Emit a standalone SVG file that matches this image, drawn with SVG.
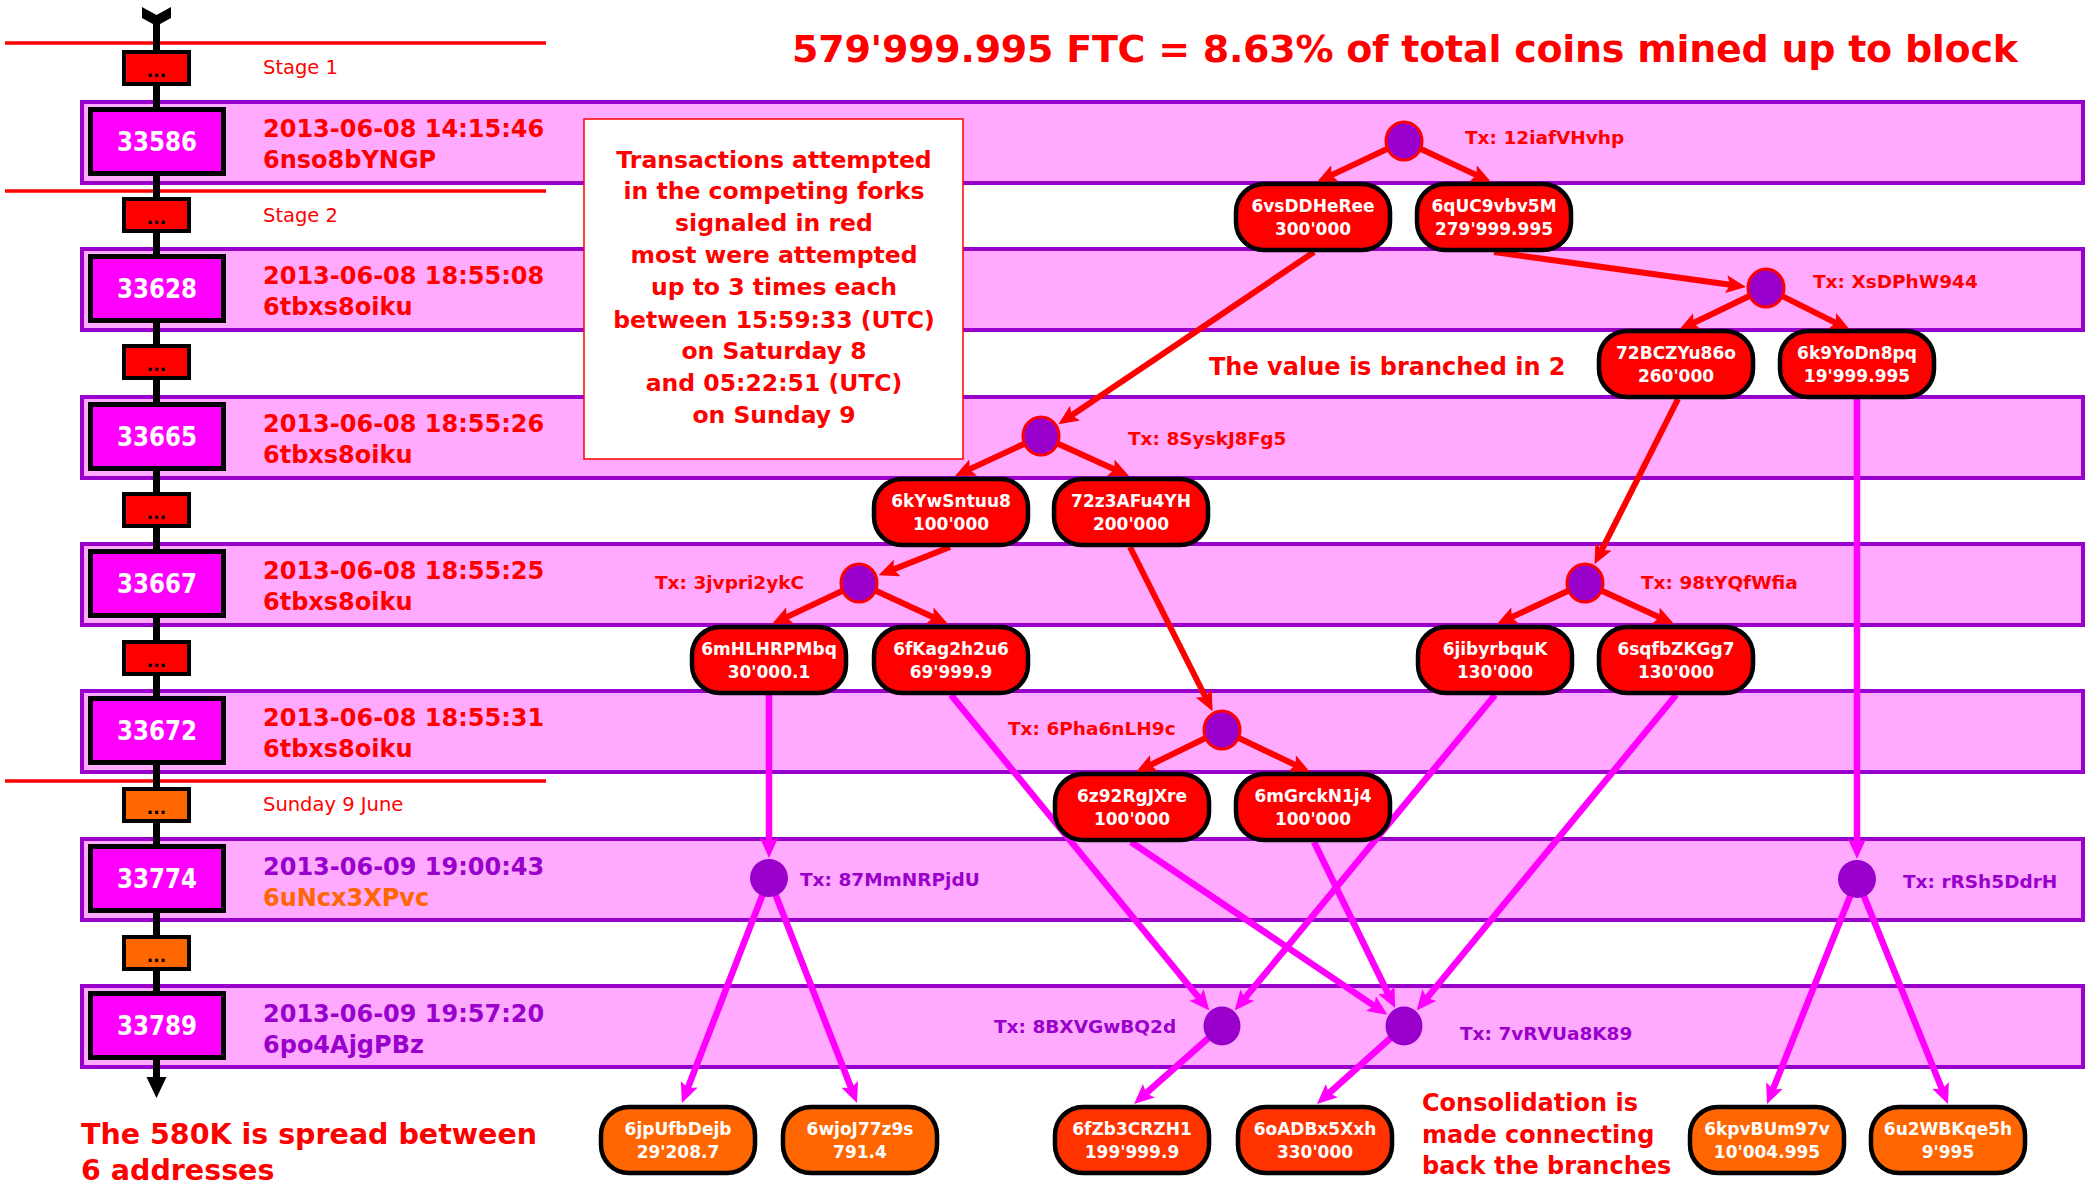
<svg xmlns="http://www.w3.org/2000/svg" width="2094" height="1184" viewBox="0 0 2094 1184">
<defs>
<style>
text{font-family:"DejaVu Sans","Liberation Sans",sans-serif}
.band{fill:#FFAAFF;stroke:#9900CC;stroke-width:4}
.blk{fill:#FF00FF;stroke:#000;stroke-width:5}
.dot{fill:#FF0000;stroke:#000;stroke-width:4}
.doto{fill:#FF6600;stroke:#000;stroke-width:4}
.dt{font-size:17px;font-weight:bold;fill:#000;text-anchor:middle}
.num{font-size:26px;font-weight:bold;fill:#fff;text-anchor:middle}
.date{font-size:24px;font-weight:bold;fill:#FF0000}
.pur{fill:#9900CC}
.org{fill:#FF6600}
.stage{font-size:19.5px;fill:#FF0000}
.rline{stroke:#FF0000;stroke-width:3.5}
.node{fill:#FF0000;stroke:#000;stroke-width:4.5}
.nodeo{fill:#FF6600;stroke:#000;stroke-width:4.5}
.noder{fill:#FF3300;stroke:#000;stroke-width:4.5}
.nt{font-size:17px;font-weight:bold;fill:#fff;text-anchor:middle}
.txr{fill:#9900CC;stroke:#FF0000;stroke-width:3}
.txp{fill:#9900CC}
.tl{font-size:18.5px;font-weight:bold;fill:#FF0000}
.tlp{font-size:18.5px;font-weight:bold;fill:#9900CC}
.cr{fill:none;stroke:#FF0000;stroke-width:6;marker-end:url(#ar)}
.cm{fill:none;stroke:#FF00FF;stroke-width:6.5;marker-end:url(#am)}
.big{font-size:24px;font-weight:bold;fill:#FF0000}
.note{font-size:23.5px;font-weight:bold;fill:#FF0000;text-anchor:middle}
</style>
<marker id="ar" markerUnits="userSpaceOnUse" markerWidth="20" markerHeight="18" viewBox="0 0 20 18" refX="8" refY="9" orient="auto"><path d="M0,0 L20,9 L0,18 L4,9 z" fill="#FF0000"/></marker>
<marker id="am" markerUnits="userSpaceOnUse" markerWidth="20" markerHeight="18" viewBox="0 0 20 18" refX="8" refY="9" orient="auto"><path d="M0,0 L20,9 L0,18 L4,9 z" fill="#FF00FF"/></marker>
</defs>
<rect width="2094" height="1184" fill="#fff"/>

<g id="header"><text x="792" y="62" font-size="38" font-weight="bold" fill="#FF0000" textLength="1226">579'999.995 FTC = 8.63% of total coins mined up to block</text></g>

<g id="bands">
<rect class="band" x="82" y="102" width="2001" height="81"/>
<rect class="band" x="82" y="249" width="2001" height="81"/>
<rect class="band" x="82" y="397" width="2001" height="81"/>
<rect class="band" x="82" y="544" width="2001" height="81"/>
<rect class="band" x="82" y="691" width="2001" height="81"/>
<rect class="band" x="82" y="839" width="2001" height="81"/>
<rect class="band" x="82" y="986" width="2001" height="81"/>
</g>

<g id="stage-lines">
<line class="rline" x1="5" y1="43" x2="546" y2="43"/>
<line class="rline" x1="5" y1="191" x2="546" y2="191"/>
<line class="rline" x1="5" y1="781" x2="546" y2="781"/>
<text class="stage" x="263" y="74">Stage 1</text>
<text class="stage" x="263" y="222">Stage 2</text>
<text class="stage org" x="263" y="811">Sunday 9 June</text>
</g>

<g id="timeline">
<line x1="156.5" y1="20" x2="156.5" y2="1080" stroke="#000" stroke-width="7"/>
<polygon points="142,7 156.5,15 171,7 171,18 156.5,26 142,18" fill="#000"/>
<polygon points="146.5,1077 166.5,1077 156.5,1098" fill="#000"/>
</g>

<g id="gaps">
<rect class="dot" x="124" y="52" width="65" height="32"/><text class="dt" x="156.5" y="77">...</text>
<rect class="dot" x="124" y="199" width="65" height="32"/><text class="dt" x="156.5" y="224">...</text>
<rect class="dot" x="124" y="346" width="65" height="32"/><text class="dt" x="156.5" y="371">...</text>
<rect class="dot" x="124" y="494" width="65" height="32"/><text class="dt" x="156.5" y="519">...</text>
<rect class="dot" x="124" y="642" width="65" height="32"/><text class="dt" x="156.5" y="667">...</text>
<rect class="doto" x="124" y="789" width="65" height="32"/><text class="dt" x="156.5" y="814">...</text>
<rect class="doto" x="124" y="937" width="65" height="32"/><text class="dt" x="156.5" y="962">...</text>
</g>

<g id="block-33586"><rect class="blk" x="90.5" y="109.5" width="133" height="64"/><text class="num" x="157" y="151" textLength="80" lengthAdjust="spacingAndGlyphs">33586</text><text class="date" x="263" y="137">2013-06-08 14:15:46</text><text class="date" x="263" y="168">6nso8bYNGP</text></g>
<g id="block-33628"><rect class="blk" x="90.5" y="256.5" width="133" height="64"/><text class="num" x="157" y="298" textLength="80" lengthAdjust="spacingAndGlyphs">33628</text><text class="date" x="263" y="284">2013-06-08 18:55:08</text><text class="date" x="263" y="315">6tbxs8oiku</text></g>
<g id="block-33665"><rect class="blk" x="90.5" y="404.5" width="133" height="64"/><text class="num" x="157" y="446" textLength="80" lengthAdjust="spacingAndGlyphs">33665</text><text class="date" x="263" y="432">2013-06-08 18:55:26</text><text class="date" x="263" y="463">6tbxs8oiku</text></g>
<g id="block-33667"><rect class="blk" x="90.5" y="551.5" width="133" height="64"/><text class="num" x="157" y="593" textLength="80" lengthAdjust="spacingAndGlyphs">33667</text><text class="date" x="263" y="579">2013-06-08 18:55:25</text><text class="date" x="263" y="610">6tbxs8oiku</text></g>
<g id="block-33672"><rect class="blk" x="90.5" y="698.5" width="133" height="64"/><text class="num" x="157" y="740" textLength="80" lengthAdjust="spacingAndGlyphs">33672</text><text class="date" x="263" y="726">2013-06-08 18:55:31</text><text class="date" x="263" y="757">6tbxs8oiku</text></g>
<g id="block-33774"><rect class="blk" x="90.5" y="846.5" width="133" height="64"/><text class="num" x="157" y="888" textLength="80" lengthAdjust="spacingAndGlyphs">33774</text><text class="date pur" x="263" y="875">2013-06-09 19:00:43</text><text class="date org" x="263" y="906">6uNcx3XPvc</text></g>
<g id="block-33789"><rect class="blk" x="90.5" y="993.5" width="133" height="64"/><text class="num" x="157" y="1035" textLength="80" lengthAdjust="spacingAndGlyphs">33789</text><text class="date pur" x="263" y="1022">2013-06-09 19:57:20</text><text class="date pur" x="263" y="1053">6po4AjgPBz</text></g>

<g id="note">
<rect x="584" y="119" width="379" height="340" fill="#fff" stroke="#FF0000" stroke-width="1.5"/>
<text class="note" x="774" y="168">Transactions attempted</text>
<text class="note" x="774" y="199">in the competing forks</text>
<text class="note" x="774" y="231">signaled in red</text>
<text class="note" x="774" y="263">most were attempted</text>
<text class="note" x="774" y="295">up to 3 times each</text>
<text class="note" x="774" y="328">between 15:59:33 (UTC)</text>
<text class="note" x="774" y="359">on Saturday 8</text>
<text class="note" x="774" y="391">and 05:22:51 (UTC)</text>
<text class="note" x="774" y="423">on Sunday 9</text>
</g>

<g id="connectors">
<path class="cr" d="M1404,141 L1327.8,176.9"/>
<path class="cr" d="M1404,141 L1480.2,176.9"/>
<path class="cr" d="M1494,252 L1734.1,285.3"/>
<path class="cr" d="M1766,288 L1689.8,324.8"/>
<path class="cr" d="M1766,288 L1839.3,324.6"/>
<path class="cr" d="M1314,252 L1068.4,417.6"/>
<path class="cr" d="M1041,436 L965.9,470.9"/>
<path class="cr" d="M1041,436 L1118.1,471"/>
<path class="cr" d="M950,547 L889.7,570.9"/>
<path class="cr" d="M859,583 L782.8,618.9"/>
<path class="cr" d="M859,583 L937.1,619"/>
<path class="cr" d="M1130,547 L1207.2,700.5"/>
<path class="cr" d="M1222,730 L1146.8,766.7"/>
<path class="cr" d="M1222,730 L1299.2,766.8"/>
<path class="cr" d="M1678,399 L1599.9,553.6"/>
<path class="cr" d="M1585,583 L1507.9,618.9"/>
<path class="cr" d="M1585,583 L1663.1,619"/>
<path class="cm" d="M769,695 L769,846"/>
<path class="cm" d="M1857,399 L1857,847"/>
<path class="cm" d="M769,878 L686.3,1091.8"/>
<path class="cm" d="M769,878 L852.6,1091.8"/>
<path class="cm" d="M1857,879 L1771.5,1092.9"/>
<path class="cm" d="M1857,879 L1943.5,1092.9"/>
<path class="cm" d="M1222,1026 L1143,1096"/>
<path class="cm" d="M1404,1026 L1325.9,1096"/>
<path class="cm" d="M951,695 L1201.7,1001.2"/>
<path class="cm" d="M1495,695 L1242.3,1001.3"/>
<path class="cm" d="M1131,842 L1377.5,1008.1"/>
<path class="cm" d="M1314,842 L1389.9,997.3"/>
<path class="cm" d="M1676,695 L1424.3,1001.2"/>
</g>

<g id="tx-12iafVHvhp"><ellipse class="txr" cx="1404" cy="141" rx="18" ry="19"/><text class="tl" x="1465" y="144">Tx: 12iafVHvhp</text></g>
<g id="tx-XsDPhW944"><ellipse class="txr" cx="1766" cy="288" rx="18" ry="19"/><text class="tl" x="1813" y="288">Tx: XsDPhW944</text></g>
<g id="tx-8SyskJ8Fg5"><ellipse class="txr" cx="1041" cy="436" rx="18" ry="19"/><text class="tl" x="1128" y="445">Tx: 8SyskJ8Fg5</text></g>
<g id="tx-3jvpri2ykC"><ellipse class="txr" cx="859" cy="583" rx="18" ry="19"/><text class="tl" x="655" y="589">Tx: 3jvpri2ykC</text></g>
<g id="tx-98tYQfWfia"><ellipse class="txr" cx="1585" cy="583" rx="18" ry="19"/><text class="tl" x="1641" y="589">Tx: 98tYQfWfia</text></g>
<g id="tx-6Pha6nLH9c"><ellipse class="txr" cx="1222" cy="730" rx="18" ry="19"/><text class="tl" x="1008" y="735">Tx: 6Pha6nLH9c</text></g>
<g id="tx-87MmNRPjdU"><circle class="txp" cx="769" cy="878" r="19"/><text class="tlp" x="800" y="886">Tx: 87MmNRPjdU</text></g>
<g id="tx-rRSh5DdrH"><circle class="txp" cx="1857" cy="879" r="19"/><text class="tlp" x="1903" y="888">Tx: rRSh5DdrH</text></g>
<g id="tx-8BXVGwBQ2d"><ellipse class="txp" cx="1222" cy="1026" rx="18.5" ry="19.5"/><text class="tlp" x="994" y="1033">Tx: 8BXVGwBQ2d</text></g>
<g id="tx-7vRVUa8K89"><ellipse class="txp" cx="1404" cy="1026" rx="18.5" ry="19.5"/><text class="tlp" x="1460" y="1040">Tx: 7vRVUa8K89</text></g>

<g id="addr-6vsDDHeRee"><rect class="node" x="1236" y="184" width="154" height="66" rx="28"/><text class="nt" x="1313" y="212">6vsDDHeRee</text><text class="nt" x="1313" y="235">300'000</text></g>
<g id="addr-6qUC9vbv5M"><rect class="node" x="1417" y="184" width="154" height="66" rx="28"/><text class="nt" x="1494" y="212">6qUC9vbv5M</text><text class="nt" x="1494" y="235">279'999.995</text></g>
<g id="addr-72BCZYu86o"><rect class="node" x="1599" y="331" width="154" height="66" rx="28"/><text class="nt" x="1676" y="359">72BCZYu86o</text><text class="nt" x="1676" y="382">260'000</text></g>
<g id="addr-6k9YoDn8pq"><rect class="node" x="1780" y="331" width="154" height="66" rx="28"/><text class="nt" x="1857" y="359">6k9YoDn8pq</text><text class="nt" x="1857" y="382">19'999.995</text></g>
<g id="addr-6kYwSntuu8"><rect class="node" x="874" y="479" width="154" height="66" rx="28"/><text class="nt" x="951" y="507">6kYwSntuu8</text><text class="nt" x="951" y="530">100'000</text></g>
<g id="addr-72z3AFu4YH"><rect class="node" x="1054" y="479" width="154" height="66" rx="28"/><text class="nt" x="1131" y="507">72z3AFu4YH</text><text class="nt" x="1131" y="530">200'000</text></g>
<g id="addr-6mHLHRPMbq"><rect class="node" x="692" y="627" width="154" height="66" rx="28"/><text class="nt" x="769" y="655">6mHLHRPMbq</text><text class="nt" x="769" y="678">30'000.1</text></g>
<g id="addr-6fKag2h2u6"><rect class="node" x="874" y="627" width="154" height="66" rx="28"/><text class="nt" x="951" y="655">6fKag2h2u6</text><text class="nt" x="951" y="678">69'999.9</text></g>
<g id="addr-6jibyrbquK"><rect class="node" x="1418" y="627" width="154" height="66" rx="28"/><text class="nt" x="1495" y="655">6jibyrbquK</text><text class="nt" x="1495" y="678">130'000</text></g>
<g id="addr-6sqfbZKGg7"><rect class="node" x="1599" y="627" width="154" height="66" rx="28"/><text class="nt" x="1676" y="655">6sqfbZKGg7</text><text class="nt" x="1676" y="678">130'000</text></g>
<g id="addr-6z92RgJXre"><rect class="node" x="1055" y="774" width="154" height="66" rx="28"/><text class="nt" x="1132" y="802">6z92RgJXre</text><text class="nt" x="1132" y="825">100'000</text></g>
<g id="addr-6mGrckN1j4"><rect class="node" x="1236" y="774" width="154" height="66" rx="28"/><text class="nt" x="1313" y="802">6mGrckN1j4</text><text class="nt" x="1313" y="825">100'000</text></g>
<g id="addr-6jpUfbDejb"><rect class="nodeo" x="601" y="1107" width="154" height="66" rx="28"/><text class="nt" x="678" y="1135">6jpUfbDejb</text><text class="nt" x="678" y="1158">29'208.7</text></g>
<g id="addr-6wjoJ77z9s"><rect class="nodeo" x="783" y="1107" width="154" height="66" rx="28"/><text class="nt" x="860" y="1135">6wjoJ77z9s</text><text class="nt" x="860" y="1158">791.4</text></g>
<g id="addr-6fZb3CRZH1"><rect class="noder" x="1055" y="1107" width="154" height="66" rx="28"/><text class="nt" x="1132" y="1135">6fZb3CRZH1</text><text class="nt" x="1132" y="1158">199'999.9</text></g>
<g id="addr-6oADBx5Xxh"><rect class="noder" x="1238" y="1107" width="154" height="66" rx="28"/><text class="nt" x="1315" y="1135">6oADBx5Xxh</text><text class="nt" x="1315" y="1158">330'000</text></g>
<g id="addr-6kpvBUm97v"><rect class="nodeo" x="1690" y="1107" width="154" height="66" rx="28"/><text class="nt" x="1767" y="1135">6kpvBUm97v</text><text class="nt" x="1767" y="1158">10'004.995</text></g>
<g id="addr-6u2WBKqe5h"><rect class="nodeo" x="1871" y="1107" width="154" height="66" rx="28"/><text class="nt" x="1948" y="1135">6u2WBKqe5h</text><text class="nt" x="1948" y="1158">9'995</text></g>

<g id="captions">
<text class="big" x="1209" y="375">The value is branched in 2</text>
<text class="big" x="1422" y="1111" font-size="23.5">Consolidation is</text>
<text class="big" x="1422" y="1143" font-size="23.5">made connecting</text>
<text class="big" x="1422" y="1174" font-size="23.5">back the branches</text>
<text x="81" y="1144" font-size="28.5" font-weight="bold" fill="#FF0000">The 580K is spread between</text>
<text x="81" y="1180" font-size="28.5" font-weight="bold" fill="#FF0000">6 addresses</text>
</g>
</svg>
